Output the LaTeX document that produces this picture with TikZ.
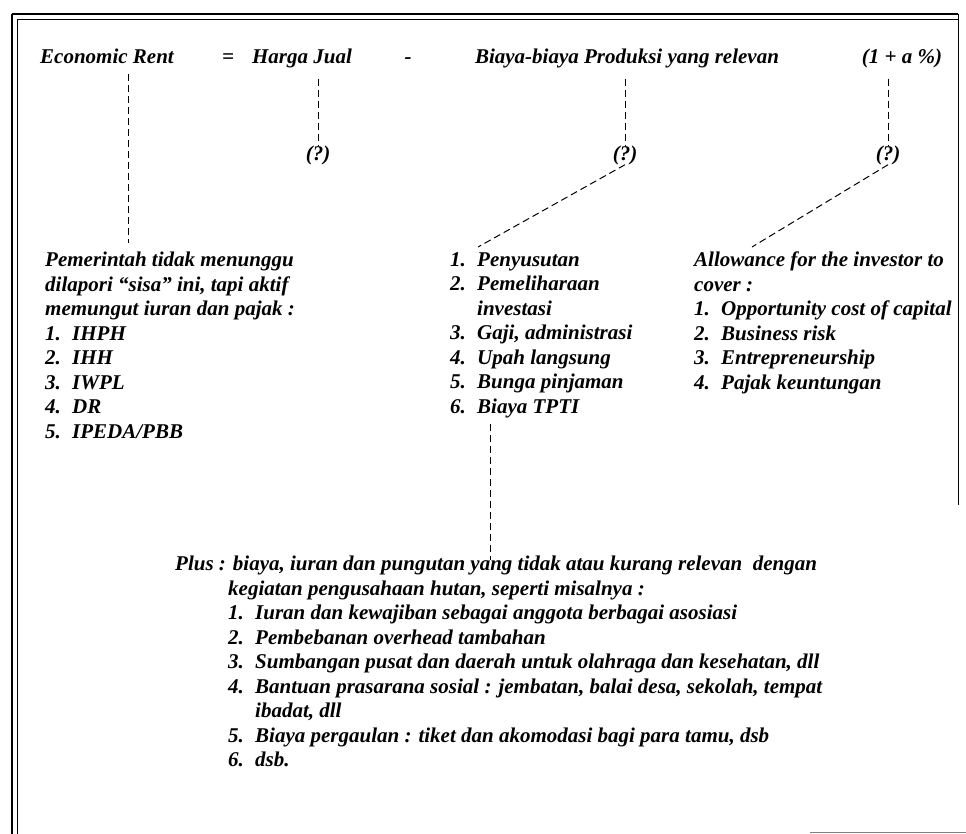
\documentclass[tikz,border=0pt]{standalone}
\usepackage{fontspec}
\setmainfont{Liberation Serif}
\usepackage{tikz}

\newcommand{\itm}[2]{\makebox[27pt][l]{#1}#2}

\begin{document}
\begin{tikzpicture}[x=1pt, y=-1pt,
    txt/.style={font=\fontsize{21}{24.5}\selectfont\bfseries\itshape, inner sep=0pt},
    blk/.style={txt, align=left, anchor=north west},
    conn/.style={dash pattern=on 7pt off 4pt, line width=1pt}]
  \useasboundingbox (0, 0) rectangle (966, 834);
  % frame
  \draw[line width=1.6pt] (12, 14) -- (12, 834);
  \draw[line width=0.9pt] (17, 19) -- (17, 834);
  \draw[line width=1.6pt] (12, 14) -- (958, 14);
  \draw[line width=0.9pt] (17, 19) -- (958, 19);
  \draw[line width=0.7pt] (958, 14) -- (958, 505);
  \draw[gray, line width=1pt] (810, 832) -- (966, 832);
  % formula
  \node[txt, anchor=base west] (rent) at (40, 64) {Economic Rent};
  \node[txt, anchor=base] (eq) at (228, 64) {=};
  \node[txt, anchor=base] (price) at (302, 64) {Harga Jual};
  \node[txt, anchor=base] (minus) at (408, 64) {-};
  \node[txt, anchor=base] (cost) at (627, 64) {Biaya-biaya Produksi yang relevan};
  \node[txt, anchor=base] (pct) at (902, 64) {(1 + a \%)};
  \node[txt] (q1) at (318, 155) {(?)};
  \node[txt] (q2) at (625, 155) {(?)};
  \node[txt] (q3) at (888, 155) {(?)};
  % blocks
  \node[blk] (gov) at (45, 252) {Pemerintah tidak menunggu\\
    dilapori “sisa” ini, tapi aktif\\
    memungut iuran dan pajak :\\
    \itm{1.}{IHPH}\\ \itm{2.}{IHH}\\ \itm{3.}{IWPL}\\
    \itm{4.}{DR}\\ \itm{5.}{IPEDA/PBB}};
  \node[blk] (list) at (450, 252) {\itm{1.}{Penyusutan}\\
    \itm{2.}{Pemeliharaan}\\ \itm{}{investasi}\\
    \itm{3.}{Gaji, administrasi}\\ \itm{4.}{Upah langsung}\\
    \itm{5.}{Bunga pinjaman}\\ \itm{6.}{Biaya TPTI}};
  \node[blk] (allow) at (694, 252) {Allowance for the investor to\\
    cover :\\ \itm{1.}{Opportunity cost of capital}\\
    \itm{2.}{Business risk}\\ \itm{3.}{Entrepreneurship}\\
    \itm{4.}{Pajak keuntungan}};
  \node[blk] (plus) at (175, 556) {Plus : biaya, iuran dan pungutan yang tidak atau kurang relevan\ \ dengan\\
    \hspace*{53pt}kegiatan pengusahaan hutan, seperti misalnya :\\
    \hspace*{53pt}\itm{1.}{Iuran dan kewajiban sebagai anggota berbagai asosiasi}\\
    \hspace*{53pt}\itm{2.}{Pembebanan overhead tambahan}\\
    \hspace*{53pt}\itm{3.}{Sumbangan pusat dan daerah untuk olahraga dan kesehatan, dll}\\
    \hspace*{53pt}\itm{4.}{Bantuan prasarana sosial : jembatan, balai desa, sekolah, tempat}\\
    \hspace*{53pt}\itm{}{ibadat, dll}\\
    \hspace*{53pt}\itm{5.}{Biaya pergaulan : tiket dan akomodasi bagi para tamu, dsb}\\
    \hspace*{53pt}\itm{6.}{dsb.}};
  % connectors
  \coordinate (govtop) at (128, 243);
  \coordinate (listtop) at (478, 247);
  \coordinate (allowtop) at (752, 247);
  \coordinate (plustop) at (490, 560);
  \draw[conn] (rent.south -| govtop) ++(0, 10) -- (govtop);
  \draw[conn] (price.south -| q1) ++(0, 10) -- (q1.north);
  \draw[conn] (cost.south -| q2) ++(0, 10) -- (q2.north);
  \draw[conn] (pct.south -| q3) ++(0, 10) -- (q3.north);
  \draw[conn] (q2.south) -- (listtop);
  \draw[conn] (q3.south) -- (allowtop);
  \draw[conn] (list.south -| plustop) ++(0, 6) -- (plustop);
\end{tikzpicture}
\end{document}
